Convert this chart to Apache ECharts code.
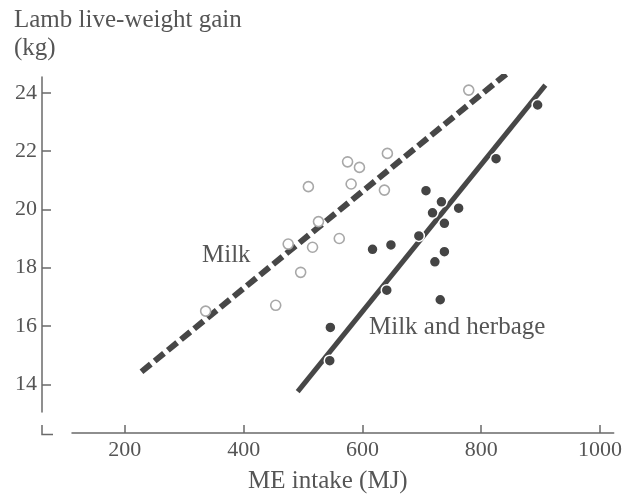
<!DOCTYPE html>
<html>
<head>
<meta charset="utf-8">
<script src="https://cdn.jsdelivr.net/npm/echarts@6/dist/echarts.min.js"></script>
<style>
  html, body { margin: 0; padding: 0; background: #fff; }
  #chart { width: 625px; height: 499px; }
</style>
</head>
<body>
<div id="chart"></div>
<script>
// ME intake (MJ) vs lamb live-weight gain (kg)
const milkIntake = [336, 454, 475, 496, 509, 516, 526, 561, 575, 581, 595, 637, 642, 779];
const milkGain   = [16.51, 16.71, 18.81, 17.84, 20.78, 18.70, 19.58, 19.00, 21.63, 20.87, 21.44, 20.66, 21.92, 24.09];

const herbIntake = [545, 546, 617, 641, 648, 695, 707, 718, 722, 731, 733, 738, 738, 762, 825, 895];
const herbGain   = [14.81, 15.95, 18.63, 17.23, 18.78, 19.09, 20.64, 19.88, 18.20, 16.90, 20.26, 19.52, 18.55, 20.04, 21.74, 23.58];

// fitted lines, end points
const milkFitX = [228, 842];
const milkFitY = [14.43, 24.64];
const herbFitX = [491, 908];
const herbFitY = [13.75, 24.26];

const xTicks = [200, 400, 600, 800, 1000];
const yTicks = [14, 16, 18, 20, 22, 24];

const zip = (a, b) => a.map((v, i) => [v, b[i]]);

const FONT = '"Liberation Serif", "DejaVu Serif", serif';
const TEXT = '#555';
const AXIS = '#6a6a6a';

const G = { left: 72, right: 10, top: 77, bottom: 87 };
const X_OFF = 21, Y_OFF = 30;

const chart = echarts.init(document.getElementById('chart'), null, { renderer: 'canvas' });

chart.setOption({
  backgroundColor: '#fff',
  animation: false,
  grid: G,
  xAxis: {
    type: 'value', min: 111, max: 1023, offset: X_OFF,
    splitLine: { show: false },
    axisLine: { show: true, lineStyle: { color: AXIS, width: 1.5 } },
    axisTick: { show: true, inside: true, length: 8, customValues: xTicks, lineStyle: { color: AXIS, width: 1.5 } },
    axisLabel: { customValues: xTicks, formatter: v => String(v), margin: 6, color: TEXT, fontFamily: FONT, fontSize: 22 }
  },
  yAxis: {
    type: 'value', min: 13.05, max: 24.54, offset: Y_OFF,
    splitLine: { show: false },
    axisLine: { show: true, lineStyle: { color: AXIS, width: 1.5 } },
    axisTick: { show: true, inside: true, length: 9, customValues: yTicks, lineStyle: { color: AXIS, width: 1.5 } },
    axisLabel: { customValues: yTicks, formatter: v => String(v), margin: 5, color: TEXT, fontFamily: FONT, fontSize: 22 }
  },
  series: [
    {
      type: 'line', data: zip(milkFitX, milkFitY), showSymbol: false, z: 2,
      lineStyle: { color: '#474747', width: 6, type: [12, 5], cap: 'butt' }
    },
    {
      type: 'line', data: zip(herbFitX, herbFitY), showSymbol: false, z: 2,
      lineStyle: { color: '#474747', width: 5 }
    },
    {
      type: 'scatter', data: zip(milkIntake, milkGain), symbolSize: 10, z: 3,
      itemStyle: { color: '#fff', borderColor: '#a8a8a8', borderWidth: 1.6, opacity: 1 }
    },
    {
      type: 'scatter', data: zip(herbIntake, herbGain), symbolSize: 11, z: 4,
      itemStyle: { color: '#444', borderColor: '#fff', borderWidth: 1.5, opacity: 1 }
    }
  ],
  graphic: [
    { type: 'text', left: 14, top: 6, style: { text: 'Lamb live-weight gain\n(kg)', fill: TEXT, font: '25px ' + FONT, lineHeight: 28 } },
    { type: 'text', left: 248, top: 469, style: { text: 'ME intake (MJ)', fill: TEXT, font: '25px ' + FONT } },
    { type: 'text', left: 202, top: 243, style: { text: 'Milk', fill: TEXT, font: '25px ' + FONT } },
    { type: 'text', left: 369, top: 315, style: { text: 'Milk and herbage', fill: TEXT, font: '25px ' + FONT } },
    // corner mark where the offset axes meet
    {
      type: 'polyline', silent: true,
      shape: { points: [[G.left - Y_OFF, 425], [G.left - Y_OFF, 434.5], [G.left - Y_OFF + 11, 434.5]] },
      style: { stroke: AXIS, lineWidth: 1.5, fill: null }
    }
  ]
});
</script>
</body>
</html>
